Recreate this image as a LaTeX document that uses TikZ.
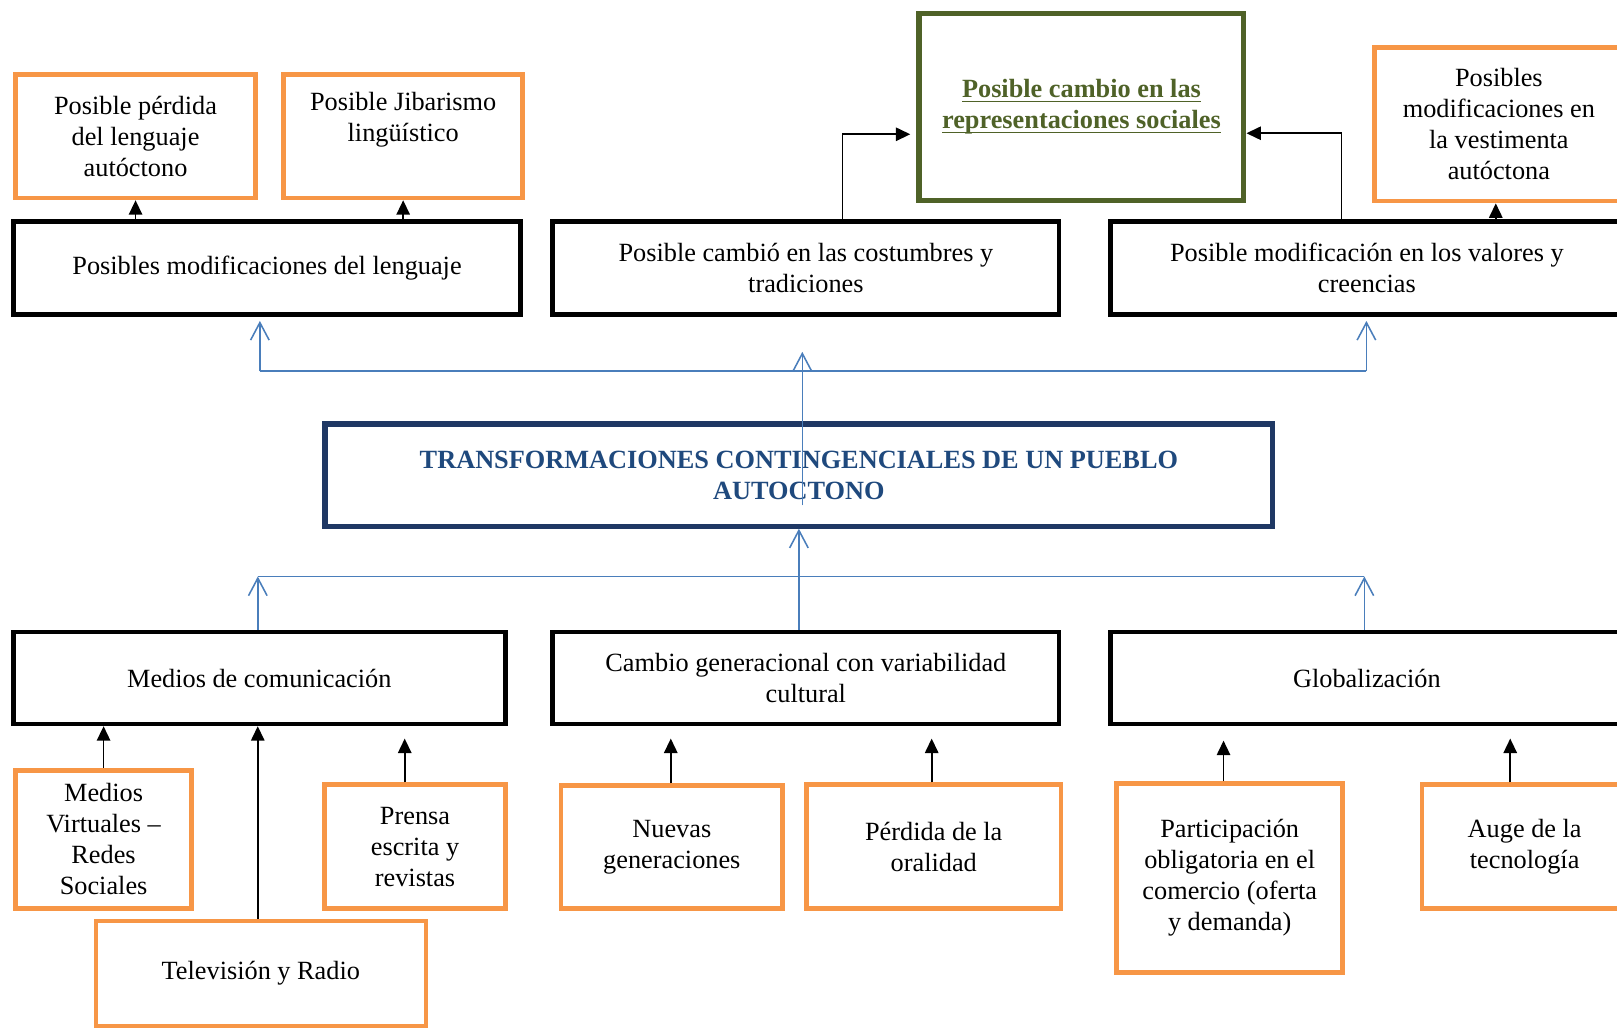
\documentclass[tikz,border=0pt]{standalone}
\usepackage{fontspec}
\setmainfont{Liberation Serif}
\usetikzlibrary{arrows.meta,calc}
\definecolor{borange}{RGB}{247,150,70}
\definecolor{ogreen}{RGB}{79,98,40}
\definecolor{navy}{RGB}{31,56,100}
\definecolor{tblue}{RGB}{31,73,125}
\definecolor{lblue}{RGB}{74,126,187}
\newcommand\grul[1]{\setbox0=\hbox{#1}\leavevmode\rlap{\rule[-4.5pt]{\wd0}{1.8pt}}\box0}
\tikzset{
  bx/.style={draw, rectangle, anchor=north west, inner sep=0pt, align=center, font=\fontsize{25.5}{30}\selectfont},
  kbox/.style={bx, draw=black, line width=4.5pt},
  obox/.style={bx, draw=borange, line width=4.5pt},
  txt/.style={inner sep=0pt, align=center, font=\fontsize{25.5}{30}\selectfont},
  karrow/.style={line width=1.6pt, -{Triangle[length=14pt,width=13pt]}},
  barrow/.style={draw=lblue, line width=1.5pt, -{Straight Barb[length=17pt,width=18pt]}},
  bline/.style={draw=lblue, line width=1.5pt}
}
\begin{document}
\begin{tikzpicture}[x=1pt,y=-1pt]
\useasboundingbox (0,0) rectangle (1568,999);
\clip (0,0) rectangle (1568,999);
\begin{scope}[shift={(-2.3,-2.3)}]
% top row
\node[obox, minimum width=233pt, minimum height=120pt] (o1) at (15,72) {Posible pérdida\\del lenguaje\\autóctono};
\node[obox, minimum width=232pt, minimum height=120pt] (o2) at (275,72) {};
\node[txt] (o2t) at ($(o2.north)+(0,46)$) {Posible Jibarismo\\lingüístico};
\node[kbox, minimum width=492pt, minimum height=90pt] (A) at (13,215) {Posibles modificaciones del lenguaje};
\node[kbox, minimum width=491pt, minimum height=90pt] (B) at (536,215) {Posible cambió en las costumbres y\\tradiciones};
\node[kbox, minimum width=497pt, minimum height=90pt] (C) at (1077,215) {Posible modificación en los valores y\\creencias};
\node[bx, draw=ogreen, line width=5pt, minimum width=315pt, minimum height=181pt, text=ogreen, font=\fontsize{25.5}{30}\selectfont\bfseries] (G) at (891,13) {\grul{Posible cambio en las}\\\grul{representaciones sociales}};
\node[obox, minimum width=241pt, minimum height=149pt] (V) at (1333,46) {Posibles\\modificaciones en\\la vestimenta\\autóctona};
% center
\node[bx, draw=navy, line width=5pt, minimum width=919pt, minimum height=99pt, text=tblue, font=\fontsize{25.5}{30}\selectfont\bfseries] (T) at (315,411) {TRANSFORMACIONES CONTINGENCIALES DE UN PUEBLO\\AUTOCTONO};
% bottom row
\node[kbox, minimum width=477pt, minimum height=89pt] (D) at (13,613) {Medios de comunicación};
\node[kbox, minimum width=491pt, minimum height=89pt] (E) at (536,613) {Cambio generacional con variabilidad\\cultural};
\node[kbox, minimum width=497pt, minimum height=89pt] (F) at (1077,613) {Globalización};
\node[obox, minimum width=171pt, minimum height=134pt] (m1) at (15,747) {Medios\\Virtuales –\\Redes\\Sociales};
\node[obox, minimum width=320pt, minimum height=102pt] (m2) at (93,893) {Televisión y Radio};
\node[obox, minimum width=175pt, minimum height=120pt] (m3) at (315,761) {Prensa\\escrita y\\revistas};
\node[obox, minimum width=215pt, minimum height=119pt] (n1) at (544,762) {Nuevas\\generaciones};
\node[obox, minimum width=247pt, minimum height=120pt] (n2) at (782,761) {Pérdida de la\\oralidad};
\node[obox, minimum width=219pt, minimum height=183pt] (g1) at (1083,760) {Participación\\obligatoria en el\\comercio (oferta\\y demanda)};
\node[obox, minimum width=199pt, minimum height=120pt] (g2) at (1379,761) {Auge de la\\tecnología};
\end{scope}
% black connectors, top
\draw[karrow] (o1.south |- A.north) -- (o1.south);
\draw[karrow] (o2.south |- A.north) -- (o2.south);
\draw[karrow, shorten >=6pt] ($(B.north)+(35.5,0)$) |- ($(G.west)+(0,26.5)$);
\draw[karrow] ($(C.north west)+(226,0)$) |- ($(G.east)+(0,25.5)$);
\coordinate (vs) at ($(V.south)+(-3,0)$);
\draw[karrow] (vs |- C.north) -- (vs);
% blue connectors, top
\coordinate (tl) at (252,360);
\coordinate (tr) at (1325,360);
\coordinate (tm) at (778,490);
\draw[bline] (tl) -- (tr);
\draw[barrow, shorten >=4pt] (tl) -- (tl |- A.south);
\draw[barrow, shorten >=4pt] (tr) -- (tr |- C.south);
\draw[barrow, shorten >=34pt] (tm) -- (tm |- B.south);
% blue connectors, bottom
\coordinate (bl) at (250,559);
\coordinate (br) at (1323,559);
\draw[bline] (bl) -- (br);
\draw[barrow] (bl |- D.north) -- (bl);
\draw[barrow] (br |- F.north) -- (br);
\draw[barrow] (T.south |- E.north) -- (T.south);
% black connectors, bottom
\draw[karrow] (m1.north) -- (m1.north |- D.south);
\coordinate (m2a) at ($(m2.north)+(-3,0)$);
\draw[karrow] (m2a) -- (m2a |- D.south);
\coordinate (m3a) at ($(m3.north)+(-10,0)$);
\draw[karrow, shorten >=12pt] (m3a) -- (m3a |- D.south);
\coordinate (n1a) at ($(n1.north)+(-1,0)$);
\draw[karrow, shorten >=12pt] (n1a) -- (n1a |- E.south);
\coordinate (n2a) at ($(n2.north)+(-2,0)$);
\draw[karrow, shorten >=12pt] (n2a) -- (n2a |- E.south);
\coordinate (g1a) at ($(g1.north)+(-6,0)$);
\draw[karrow, shorten >=14pt] (g1a) -- (g1a |- F.south);
\coordinate (g2a) at ($(g2.north)+(-14,0)$);
\draw[karrow, shorten >=12pt] (g2a) -- (g2a |- F.south);
\end{tikzpicture}
\end{document}
